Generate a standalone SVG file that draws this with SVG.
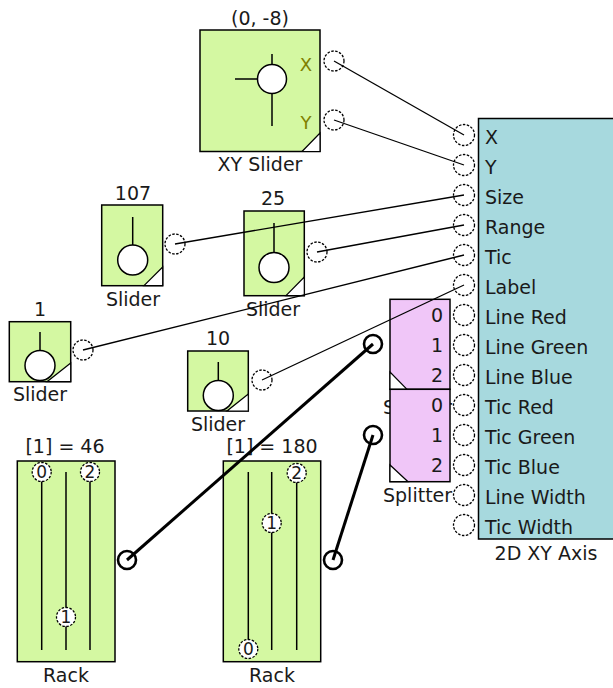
<svg xmlns="http://www.w3.org/2000/svg" width="613" height="688" viewBox="0 0 613 688">
<style>
.g{fill:#d4f8a2;stroke:#000;stroke-width:1.5}
.pk{fill:#f0c6f8;stroke:#000;stroke-width:1.5}
.ax{fill:#a7d9de;stroke:#000;stroke-width:1.5}
text{font-family:"DejaVu Sans",Verdana,sans-serif;font-size:19px;fill:#1a1a1a}
.c{text-anchor:middle}
.r{text-anchor:end}
.xy{fill:#808000;font-size:18px}
.d{font-size:17px}
.p{fill:#fff;stroke:#000;stroke-width:1.3;stroke-dasharray:2.5 1.5}
.pt{fill:#fff;stroke:#000;stroke-width:2.6}
.k{fill:#fff;stroke:#000;stroke-width:1.5}
.tri{fill:#fff;stroke:#000;stroke-width:1.2}
.w{stroke:#000;stroke-width:1.5;fill:none}
.cn{stroke:#000;stroke-width:1.3;fill:none}
.ct{stroke:#000;stroke-width:3;fill:none}
</style>

<g id="xyslider">
  <text class="c" x="260" y="25">(0, -8)</text>
  <rect class="g" x="200" y="30" width="120" height="121.5"/>
  <line class="w" x1="272" y1="54" x2="272" y2="66"/>
  <line class="w" x1="272" y1="92" x2="272" y2="126"/>
  <line class="w" x1="235" y1="79" x2="259" y2="79"/>
  <circle class="k" cx="272" cy="79" r="14.5"/>
  <polygon class="tri" points="302,151.5 320,151.5 320,133"/>
  <text class="c xy" x="306" y="71">X</text>
  <text class="c xy" x="306" y="129">Y</text>
  <circle class="p" cx="334" cy="61" r="10"/>
  <circle class="p" cx="334" cy="120" r="10"/>
  <text class="c" x="260" y="171">XY Slider</text>
</g>

<g id="slider107">
  <text class="c" x="133" y="200">107</text>
  <rect class="g" x="101.7" y="205" width="61" height="80.7"/>
  <line class="w" x1="132.7" y1="217" x2="132.7" y2="246"/>
  <circle class="k" cx="132.7" cy="260" r="15"/>
  <polygon class="tri" points="144,285.7 162.7,285.7 162.7,267"/>
  <circle class="p" cx="175" cy="244" r="10"/>
  <text class="c" x="133" y="306">Slider</text>
</g>

<g id="slider25">
  <text class="c" x="273" y="205">25</text>
  <rect class="g" x="244" y="211" width="60.3" height="84.7"/>
  <line class="w" x1="274" y1="223" x2="274" y2="253"/>
  <circle class="k" cx="274" cy="267.5" r="15"/>
  <polygon class="tri" points="286,295.7 304.3,295.7 304.3,277"/>
  <circle class="p" cx="317" cy="252" r="10"/>
  <text class="c" x="273" y="316">Slider</text>
</g>

<g id="slider1">
  <text class="c" x="40" y="316">1</text>
  <rect class="g" x="9.3" y="321.7" width="61.4" height="60"/>
  <line class="w" x1="40" y1="332" x2="40" y2="351"/>
  <circle class="k" cx="40" cy="365.5" r="15"/>
  <polygon class="tri" points="47,381.7 70.7,381.7 70.7,363"/>
  <circle class="p" cx="83" cy="350" r="10"/>
  <text class="c" x="40" y="401">Slider</text>
</g>

<g id="slider10">
  <text class="c" x="218" y="345">10</text>
  <rect class="g" x="187.7" y="351" width="60.6" height="60"/>
  <line class="w" x1="218.3" y1="362" x2="218.3" y2="381"/>
  <circle class="k" cx="218.3" cy="395.5" r="15"/>
  <polygon class="tri" points="227,411 248.3,411 248.3,394"/>
  <circle class="p" cx="262" cy="380" r="10"/>
  <text class="c" x="218" y="431">Slider</text>
</g>

<g id="rack1">
  <text class="c" x="65" y="453">[1] = 46</text>
  <rect class="g" x="17.3" y="461" width="97.7" height="200.7"/>
  <line class="w" x1="41.7" y1="472" x2="41.7" y2="650"/>
  <line class="w" x1="66" y1="472" x2="66" y2="650"/>
  <line class="w" x1="90" y1="472" x2="90" y2="650"/>
  <circle class="p" cx="41.7" cy="472" r="9.5"/>
  <text class="c d" x="41.7" y="478">0</text>
  <circle class="p" cx="90" cy="472" r="9.5"/>
  <text class="c d" x="90" y="478">2</text>
  <circle class="p" cx="66" cy="617" r="9.5"/>
  <text class="c d" x="66" y="623">1</text>
  <circle class="pt" cx="127" cy="560" r="9"/>
  <text class="c" x="66" y="682">Rack</text>
</g>

<g id="rack2">
  <text class="c" x="272" y="453">[1] = 180</text>
  <rect class="g" x="223.3" y="461" width="97.4" height="200.7"/>
  <line class="w" x1="248.3" y1="472" x2="248.3" y2="650"/>
  <line class="w" x1="271.7" y1="472" x2="271.7" y2="650"/>
  <line class="w" x1="296.7" y1="472" x2="296.7" y2="650"/>
  <circle class="p" cx="296.7" cy="473" r="9.5"/>
  <text class="c d" x="296.7" y="479">2</text>
  <circle class="p" cx="271.7" cy="523" r="9.5"/>
  <text class="c d" x="271.7" y="529">1</text>
  <circle class="p" cx="248.3" cy="649" r="9.5"/>
  <text class="c d" x="248.3" y="655">0</text>
  <circle class="pt" cx="333" cy="560" r="9"/>
  <text class="c" x="272" y="682">Rack</text>
</g>

<g id="splitter1">
  <text x="383" y="414">Splitter</text>
  <rect class="pk" x="390" y="299.3" width="60" height="90"/>
  <polygon class="tri" points="390,372 390,389.3 407,389.3"/>
  <text class="r" x="443" y="322">0</text>
  <text class="r" x="443" y="352">1</text>
  <text class="r" x="443" y="382">2</text>
  <circle class="pt" cx="373" cy="344" r="9"/>
</g>

<g id="splitter2">
  <rect class="pk" x="390" y="389.3" width="60" height="92.4"/>
  <polygon class="tri" points="390,465 390,481.7 408,481.7"/>
  <text class="r" x="443" y="412">0</text>
  <text class="r" x="443" y="442">1</text>
  <text class="r" x="443" y="472">2</text>
  <circle class="pt" cx="373" cy="435" r="9"/>
  <text x="383" y="502">Splitter</text>
</g>

<g id="axis2d">
  <rect class="ax" x="478.5" y="118.5" width="140" height="420.5"/>
  <text x="485" y="144">X</text>
  <text x="485" y="174">Y</text>
  <text x="485" y="204">Size</text>
  <text x="485" y="234">Range</text>
  <text x="485" y="264">Tic</text>
  <text x="485" y="294">Label</text>
  <text x="485" y="324">Line Red</text>
  <text x="485" y="354">Line Green</text>
  <text x="485" y="384">Line Blue</text>
  <text x="485" y="414">Tic Red</text>
  <text x="485" y="444">Tic Green</text>
  <text x="485" y="474">Tic Blue</text>
  <text x="485" y="504">Line Width</text>
  <text x="485" y="534">Tic Width</text>
  <circle class="p" cx="464" cy="135" r="10.5"/>
  <circle class="p" cx="464" cy="165" r="10.5"/>
  <circle class="p" cx="464" cy="195" r="10.5"/>
  <circle class="p" cx="464" cy="225" r="10.5"/>
  <circle class="p" cx="464" cy="255" r="10.5"/>
  <circle class="p" cx="464" cy="285" r="10.5"/>
  <circle class="p" cx="464" cy="315" r="10.5"/>
  <circle class="p" cx="464" cy="345" r="10.5"/>
  <circle class="p" cx="464" cy="375" r="10.5"/>
  <circle class="p" cx="464" cy="405" r="10.5"/>
  <circle class="p" cx="464" cy="435" r="10.5"/>
  <circle class="p" cx="464" cy="465" r="10.5"/>
  <circle class="p" cx="464" cy="495" r="10.5"/>
  <circle class="p" cx="464" cy="525" r="10.5"/>
  <text class="c" x="546" y="560">2D XY Axis</text>
</g>

<g id="connectors">
  <line class="cn" x1="334" y1="61" x2="464" y2="135"/>
  <line class="cn" x1="334" y1="120" x2="464" y2="165"/>
  <line class="cn" x1="175" y1="244" x2="464" y2="195"/>
  <line class="cn" x1="317" y1="252" x2="464" y2="225"/>
  <line class="cn" x1="83" y1="350" x2="464" y2="255"/>
  <line class="cn" x1="262" y1="380" x2="464" y2="285"/>
  <line class="ct" x1="127" y1="560" x2="373" y2="344"/>
  <line class="ct" x1="333" y1="560" x2="373" y2="435"/>
</g>
</svg>
